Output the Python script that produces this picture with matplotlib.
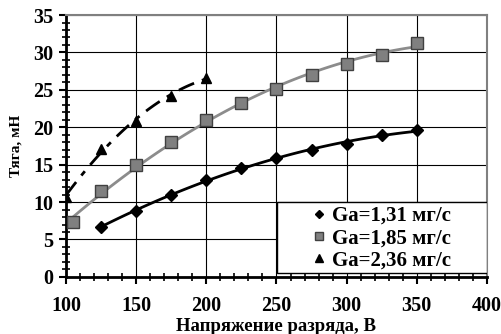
import numpy as np
import matplotlib.pyplot as plt
from matplotlib.ticker import MultipleLocator
from matplotlib.patches import Rectangle

# data
x1 = [125, 150, 175, 200, 225, 250, 275, 300, 325, 350]
y1 = [6.7, 8.8, 11.0, 13.0, 14.5, 15.9, 17.0, 17.8, 18.9, 19.6]

x2 = [105, 125, 150, 175, 200, 225, 250, 275, 300, 325, 350]
y2 = [7.3, 11.5, 15.0, 18.0, 21.0, 23.3, 25.1, 27.0, 28.5, 29.7, 31.3]

x3 = [100, 125, 150, 175, 200]
y3 = [10.7, 17.1, 20.9, 24.2, 26.6]

labels = ['Ga=1,31 мг/с', 'Ga=1,85 мг/с', 'Ga=2,36 мг/с']

plt.rcParams['font.family'] = ['Liberation Serif', 'DejaVu Serif']
plt.rcParams['font.weight'] = 'bold'

fig = plt.figure(figsize=(5.02, 3.34), dpi=100)
ax = fig.add_axes([0.1315, 0.171, 0.8385, 0.784])


def trend(x, y, deg=2):
    # smooth trendline through the points
    p = np.polyfit(x, y, deg)
    xs = np.linspace(min(x), max(x), 100)
    return xs, np.polyval(p, xs)


xs, ys = trend(x1, y1)
ax.plot(xs, ys, color='black', lw=2, zorder=3)
xs, ys = trend(x2, y2)
ax.plot(xs, ys, color='#8c8c8c', lw=2, zorder=3)
xs, ys = trend(x3, y3)
ax.plot(xs, ys, color='black', lw=2, ls=(0, (6, 3, 2, 3)), zorder=3)

m1, = ax.plot(x1, y1, 'D', color='black', ms=6, zorder=4, label=labels[0])
m2, = ax.plot(x2, y2, 's', color='#808080', mec='#404040', mew=1, ms=9, zorder=4, label=labels[1])
m3, = ax.plot(x3, y3, '^', color='black', ms=7.5, zorder=4, label=labels[2])

ax.set_xlim(100, 400)
ax.set_ylim(0, 35)
ax.xaxis.set_major_locator(MultipleLocator(50))
ax.xaxis.set_minor_locator(MultipleLocator(10))
ax.yaxis.set_major_locator(MultipleLocator(5))
ax.yaxis.set_minor_locator(MultipleLocator(1))
ax.grid(True, which='major', color='black', lw=0.8)
ax.tick_params(which='major', direction='out', length=5, width=1.5, labelsize=14.5)
ax.tick_params(axis='x', which='major', pad=9)
ax.tick_params(axis='y', which='major', pad=4)
ax.tick_params(which='minor', direction='inout', length=6, width=1.2)

for s in ['left', 'bottom']:
    ax.spines[s].set_linewidth(2)
    ax.spines[s].set_color('black')
for s in ['top', 'right']:
    ax.spines[s].set_linewidth(1.5)
    ax.spines[s].set_color('#808080')

ax.set_xlabel('Напряжение разряда, В', fontsize=13.5, fontweight='bold', labelpad=1)
ax.set_ylabel('Тяга, мН', fontsize=11, fontweight='bold', labelpad=8)

# Excel-like legend box, wider than its contents
ax.add_patch(Rectangle((0.501, 0.015), 0.499, 0.271, transform=ax.transAxes,
                       facecolor='white', edgecolor='black', lw=1, zorder=5))
leg = ax.legend(handles=[m1, m2, m3], loc='center', bbox_to_anchor=(0.75, 0.148),
                fontsize=15, frameon=False, handlelength=0.6, handletextpad=0.35,
                borderpad=0, labelspacing=0.1, markerscale=0.7)
leg.set_zorder(6)
for t in leg.get_texts():
    t.set_fontweight('bold')

plt.savefig('out.png', dpi=100)
